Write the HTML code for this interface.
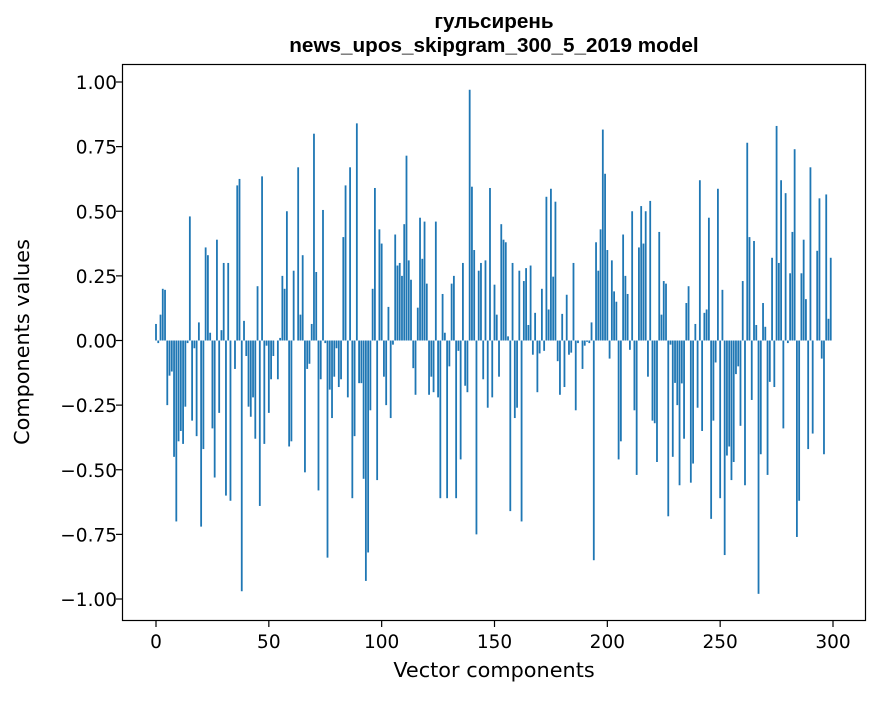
<!DOCTYPE html>
<html><head><meta charset="utf-8"><style>
html,body{margin:0;padding:0;background:#fff;}
svg text{font-family:"DejaVu Sans","Liberation Sans",sans-serif;fill:#000;}
</style></head><body>
<svg id="s" width="880" height="696" xmlns="http://www.w3.org/2000/svg">
<rect width="880" height="696" fill="#fff"/>
<text x="494" y="28" font-size="20.7" font-weight="bold" text-anchor="middle" style="font-family:'Liberation Sans',sans-serif">гульсирень</text>
<text x="494" y="52" font-size="20.7" font-weight="bold" text-anchor="middle" style="font-family:'Liberation Sans',sans-serif">news_upos_skipgram_300_5_2019 model</text>
<g id="bars" fill="#1f77b4"></g>
<rect x="122.5" y="64.5" width="743" height="556" fill="none" stroke="#000" stroke-width="1.2"/>
<g id="ticks"></g>
<text x="494" y="677" font-size="20.8" text-anchor="middle">Vector components</text>
<text x="0" y="0" font-size="20.8" text-anchor="middle" transform="translate(29,342) rotate(-90)">Components values</text>
</svg>
<script>
var v=[0.064,-0.01,0.1,0.2,0.196,-0.25,-0.136,-0.12,-0.45,-0.7,-0.39,-0.35,-0.4,-0.256,-0.01,0.48,-0.31,-0.03,-0.37,0.07,-0.72,-0.42,0.36,0.33,0.03,-0.34,-0.53,0.39,-0.28,0.04,0.3,-0.6,0.3,-0.62,0,-0.11,0.6,0.625,-0.97,0.076,-0.06,-0.256,-0.295,-0.22,-0.38,0.21,-0.64,0.635,-0.4,-0.02,-0.28,-0.15,-0.06,0,-0.15,0.01,0.25,0.2,0.5,-0.41,-0.39,0.27,0,0.67,0.1,0.33,-0.51,-0.11,-0.09,0.064,0.8,0.265,-0.58,-0.15,0.505,-0.01,-0.84,-0.19,-0.3,-0.14,-0.03,-0.18,-0.15,0.4,0.6,-0.22,0.67,-0.61,-0.37,0.84,-0.165,-0.165,-0.535,-0.93,-0.82,-0.27,0.2,0.59,-0.54,0.43,0.375,-0.14,-0.25,0.13,-0.3,-0.016,0.41,0.29,0.3,0.25,0.45,0.715,0.31,0.235,-0.107,-0.21,0.127,0.475,0.316,0.46,0.22,-0.21,-0.14,-0.2,0.46,-0.22,-0.61,0.18,0.03,-0.61,-0.1,0.22,0.25,-0.61,-0.04,-0.46,0.3,-0.175,-0.2,0.97,0.595,0.35,-0.75,0.27,0.3,-0.15,0.31,-0.26,0.59,-0.22,0.216,0.1,-0.14,0.45,0.39,0.38,0.016,-0.66,0.3,-0.3,-0.26,0.27,-0.7,0.23,0.28,0.06,0.29,-0.055,0.107,-0.2,-0.05,0.2,-0.04,0.556,0.12,0.587,0.247,0.537,-0.08,-0.21,0.103,-0.18,0.177,-0.055,-0.047,0.3,-0.27,-0.01,0,-0.11,-0.02,-0.005,-0.01,0.07,-0.85,0.38,0.27,0.43,0.816,0.645,0.35,-0.07,0.31,0.19,0.15,
-0.46,-0.39,0.41,0.25,0.18,-0.036,0.5,-0.27,-0.52,0.36,0.52,0.375,0.5,-0.14,0.54,-0.31,-0.32,-0.47,0.42,0.1,0.23,0.22,-0.68,-0.016,-0.45,-0.164,-0.25,-0.56,-0.166,-0.38,0.145,0.21,-0.55,-0.476,0.064,-0.26,0.62,-0.35,0.107,0.12,0.475,-0.69,-0.31,-0.085,0.587,-0.61,0.196,
-0.83,-0.445,-0.41,-0.54,-0.47,-0.13,-0.1,-0.33,0.23,-0.56,0.765,0.4,-0.23,0.385,0.06,-0.98,-0.44,0.145,0.053,-0.52,-0.16,0.32,-0.18,0.83,0.3,0.62,-0.34,0.57,-0.01,0.26,0.42,0.74,-0.76,-0.62,0.26,0.39,0.16,-0.42,0.67,-0.36,0,0.347,0.55,-0.07,-0.44,0.565,0.084,0.32];
var NS="http://www.w3.org/2000/svg";
function X(u){return 156+u*(833-156)/300;}
function Y(t){return 340.5-t*258.5;}
var g=document.getElementById('bars');
for(var i=0;i<v.length;i++){var r=document.createElementNS(NS,'rect');var y0=Y(0),y1=Y(v[i]);
r.setAttribute('x',X(i)-0.9);r.setAttribute('width',1.8);r.setAttribute('y',Math.min(y0,y1));r.setAttribute('height',Math.abs(y1-y0));g.appendChild(r);}
var t=document.getElementById('ticks');
function add(tag,a,txt){var e=document.createElementNS(NS,tag);for(var k in a)e.setAttribute(k,a[k]);if(txt!==undefined)e.textContent=txt;t.appendChild(e);}
for(var u=0;u<=300;u+=50){var x=X(u);add('line',{x1:x,x2:x,y1:621,y2:627,stroke:'#000','stroke-width':1.2});add('text',{x:x,y:648,'font-size':'18.5','text-anchor':'middle'},String(u));}
for(var k=-4;k<=4;k++){var val=k*0.25,y=Y(val);add('line',{x1:116,x2:122,y1:y,y2:y,stroke:'#000','stroke-width':1.2});
var s=(val<0?'\u2212':'')+Math.abs(val).toFixed(2);add('text',{x:117,y:y+7,'font-size':'18.5','text-anchor':'end'},s);}
</script>
</body></html>
